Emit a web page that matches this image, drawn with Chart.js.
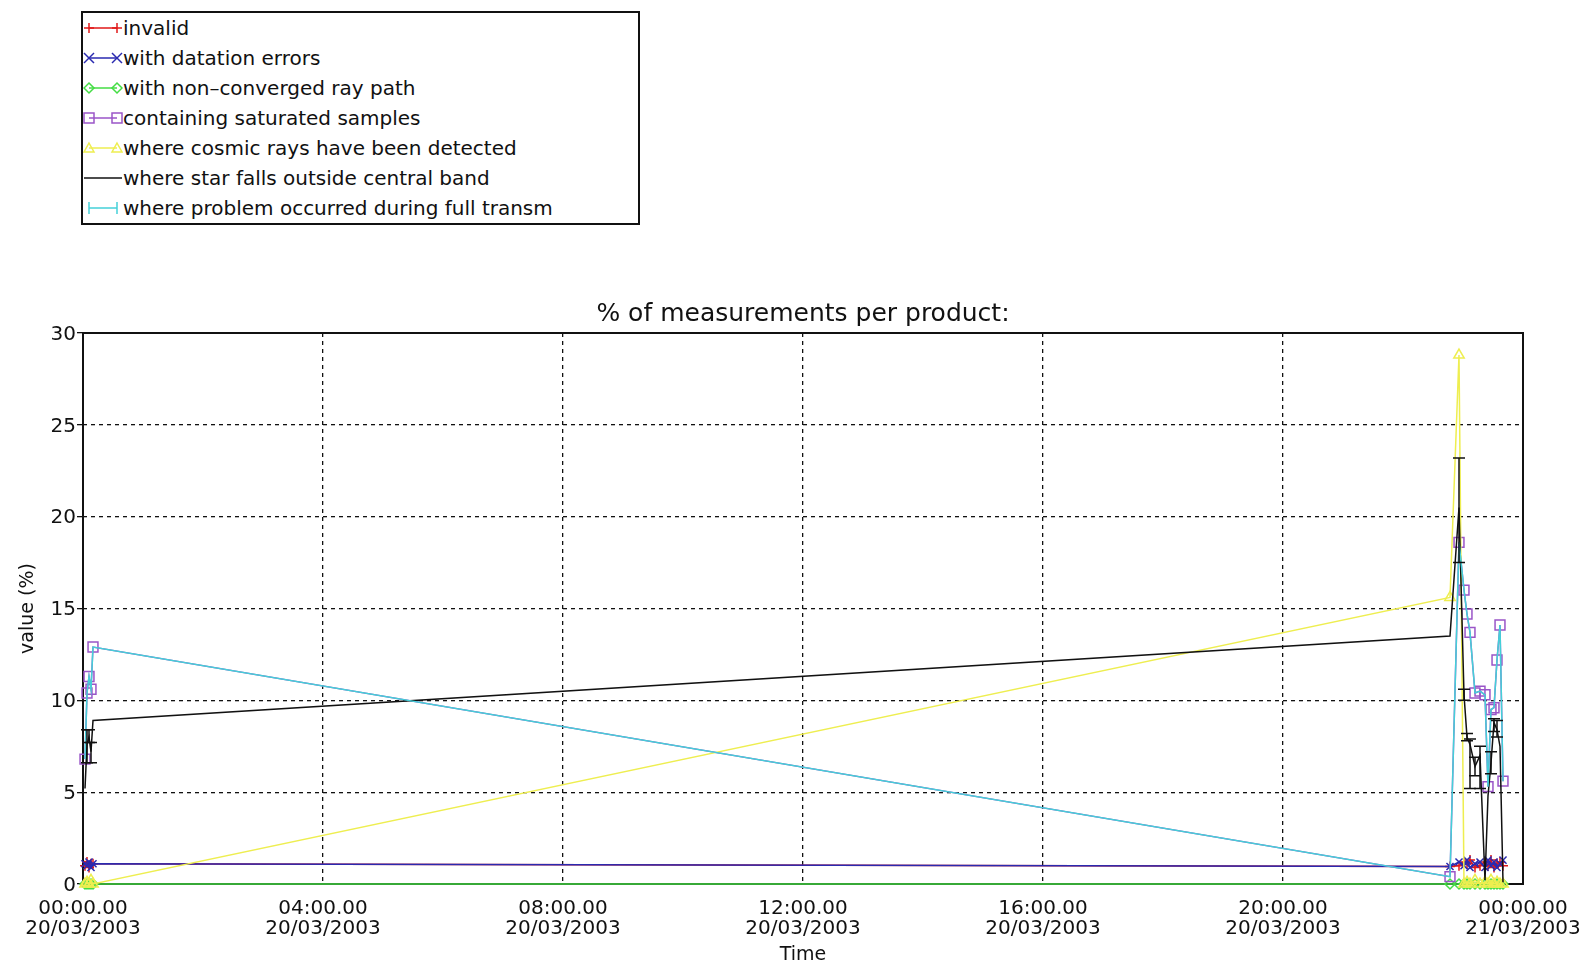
<!DOCTYPE html>
<html><head><meta charset="utf-8">
<script src="https://cdn.jsdelivr.net/npm/chart.js@4.4.1/dist/chart.umd.min.js"></script>
<style>
html,body{margin:0;padding:0;background:#fff;}
#wrap{position:relative;width:1594px;height:967px;overflow:hidden;background:#fff;}
#c{position:absolute;left:0;top:0;}
#legend{position:absolute;left:81px;top:11px;width:555px;height:210px;border:2px solid #111;font-family:"DejaVu Sans",sans-serif;font-size:20px;color:#111;background:#fff;}
.row{height:30px;display:flex;align-items:center;white-space:nowrap;}
.row svg{width:40px;height:24px;flex:none;}
</style></head>
<body>
<div id="wrap"><canvas id="c" width="1594" height="967"></canvas><div id="legend"></div></div>
<script>
// ---- data (time in minutes after 20/03/2003 00:00) ----
const times        = [2, 4, 6, 8, 10, 1367, 1376, 1381, 1384, 1387, 1392, 1397, 1402, 1405, 1408, 1411, 1414, 1417, 1420];
const invalid      = [1.0, 1.2, 0.9, 1.1, 1.1, 0.95, 1.0, 1.2, 1.1, 1.3, 0.9, 1.0, 1.2, 1.0, 1.3, 0.9, 1.1, 1.2, 1.0];
const datation     = [1.1, 1.0, 1.2, 0.9, 1.1, 0.95, 1.2, 1.0, 1.3, 0.9, 1.1, 1.2, 0.9, 1.3, 1.0, 1.2, 0.9, 1.1, 1.3];
const nonConverged = [0, 0, 0, 0, 0, 0, 0, 0, 0, 0, 0, 0, 0, 0, 0, 0, 0, 0, 0];
const saturated    = [6.8, 10.4, 11.3, 10.6, 12.9, 0.4, 18.6, 16.0, 14.7, 13.7, 10.4, 10.5, 10.3, 5.3, 9.5, 9.6, 12.2, 14.1, 5.6];
const cosmic       = [0, 0.1, 0, 0.2, 0, 15.6, 28.8, 0, 0.1, 0, 0.2, 0, 0.1, 0, 0.2, 0, 0.1, 0, 0];
const starOutside  = [5.2, 7.6, 8.0, 7.2, 8.9, 13.5, 20.5, 10.3, 8.0, 7.6, 6.4, 7.0, 0.2, 4.8, 6.6, 8.8, 8.4, 7.5, 0.1];
const starLow      = [null, 6.6, 7.7, 6.6, null, null, 17.5, 10.0, 7.8, 5.2, 5.9, 5.2, null, null, 6.0, 8.3, 8.0, null, null];
const starHigh     = [null, 8.4, 8.4, 7.7, null, null, 23.2, 10.6, 8.2, 7.9, 6.9, 7.5, null, null, 7.2, 9.0, 8.9, null, null];
const transmProblem= [6.8, 10.4, 11.3, 10.6, 12.9, 0.4, 18.6, 16.0, 14.7, 13.7, 10.4, 10.5, 10.3, 5.3, 9.5, 9.6, 12.2, 14.1, 5.6];

const seriesNames = ['invalid','with datation errors','with non\u2013converged ray path','containing saturated samples','where cosmic rays have been detected','where star falls outside central band','where problem occurred during full transm'];
const seriesColors = ['#e01818','#2a2ab0','#44dd44','#9a55c8','#eeee50','#111111','#44d0d8'];
const seriesMarkers = ['cross','crossRot','rectRot','rect','triangle',false,false];
const markerSizes = [5, 5, 5, 7, 6, 0, 0];
const legendMarkers = ['plus','x','diamond','square','triangle','none','bar'];
const seriesValues = [invalid, datation, nonConverged, saturated, cosmic, starOutside, transmProblem];

const xTickTimes = ['00:00.00','04:00.00','08:00.00','12:00.00','16:00.00','20:00.00','00:00.00'];
const xTickDates = ['20/03/2003','20/03/2003','20/03/2003','20/03/2003','20/03/2003','20/03/2003','21/03/2003'];
const titleText = '% of measurements per product:';

// ---- legend (HTML) ----
function sym(kind, cx){
  const cy = 12, r = 5;
  switch(kind){
    case 'plus': return `<line x1="${cx-r}" y1="${cy}" x2="${cx+r}" y2="${cy}"/><line x1="${cx}" y1="${cy-r}" x2="${cx}" y2="${cy+r}"/>`;
    case 'x': return `<line x1="${cx-r}" y1="${cy-r}" x2="${cx+r}" y2="${cy+r}"/><line x1="${cx-r}" y1="${cy+r}" x2="${cx+r}" y2="${cy-r}"/>`;
    case 'diamond': return `<polygon points="${cx},${cy-r} ${cx+r},${cy} ${cx},${cy+r} ${cx-r},${cy}" fill="none"/>`;
    case 'square': return `<rect x="${cx-r}" y="${cy-r}" width="${2*r}" height="${2*r}" fill="none"/>`;
    case 'triangle': return `<polygon points="${cx},${cy-r} ${cx+r},${cy+r-1} ${cx-r},${cy+r-1}" fill="none"/>`;
    case 'bar': return `<line x1="${cx}" y1="${cy-6}" x2="${cx}" y2="${cy+6}"/>`;
    default: return '';
  }
}
const leg = document.getElementById('legend');
seriesNames.forEach((n,i)=>{
  const k = legendMarkers[i], c = seriesColors[i];
  const x1 = k==='none'?1:6, x2 = k==='none'?39:34;
  const svg = `<svg viewBox="0 0 40 24"><g stroke="${c}" stroke-width="1.5"><line x1="${x1}" y1="12" x2="${x2}" y2="12"/>${sym(k,6)}${sym(k,34)}</g></svg>`;
  const row = document.createElement('div'); row.className='row';
  row.innerHTML = svg + '<span>'+n+'</span>';
  leg.appendChild(row);
});

// ---- chart ----
Chart.defaults.font.family = '"DejaVu Sans", sans-serif';
Chart.defaults.color = '#111';

const boxPlugin = {
  id:'box',
  beforeDatasetsDraw(chart){
    const {ctx, chartArea:a} = chart;
    ctx.save(); ctx.setLineDash([]); ctx.lineWidth = 2; ctx.strokeStyle = '#111';
    ctx.strokeRect(a.left, a.top, a.right-a.left, a.bottom-a.top);
    ctx.restore();
  }
};
const plotTitle = {
  id:'plotTitle',
  afterDraw(chart){
    const {ctx, chartArea:a} = chart;
    ctx.save();
    ctx.font = '25px "DejaVu Sans", sans-serif';
    ctx.fillStyle = '#111'; ctx.textAlign = 'center'; ctx.textBaseline = 'middle';
    ctx.fillText(titleText, (a.left + a.right)/2, a.top - 19);
    ctx.restore();
  }
};
const errPlugin = {
  id:'errbars',
  afterDatasetsDraw(chart){
    const {ctx, scales:{x, y}} = chart;
    ctx.save(); ctx.setLineDash([]); ctx.lineWidth = 1.5; ctx.strokeStyle = '#111';
    for(let i=0;i<times.length;i++){
      if(starLow[i]==null) continue;
      const px = x.getPixelForValue(times[i]);
      const lo = y.getPixelForValue(starLow[i]), hi = y.getPixelForValue(starHigh[i]);
      ctx.beginPath();
      ctx.moveTo(px, lo); ctx.lineTo(px, hi);
      ctx.moveTo(px-6, lo); ctx.lineTo(px+6, lo);
      ctx.moveTo(px-6, hi); ctx.lineTo(px+6, hi);
      ctx.stroke();
    }
    ctx.restore();
  }
};

const datasets = seriesNames.map((n,i)=>({
  label:n,
  data: times.map((t,j)=>({x:t, y:seriesValues[i][j]})),
  borderColor: seriesColors[i],
  backgroundColor: 'rgba(0,0,0,0)',
  borderWidth: 1.5,
  pointStyle: seriesMarkers[i],
  pointRadius: markerSizes[i],
  pointBorderWidth: 1.5,
  pointBorderColor: seriesColors[i],
  pointBackgroundColor: 'rgba(0,0,0,0)',
  tension: 0,
  order: 7 - i,
  clip: false
}));

new Chart(document.getElementById('c'), {
  type:'line',
  data:{datasets},
  options:{
    responsive:false,
    animation:false,
    events:[],
    devicePixelRatio:1,
    layout:{padding:{left:0, right:71, top:333, bottom:0}},
    plugins:{
      legend:{display:false},
      tooltip:{enabled:false},
      title:{display:false}
    },
    scales:{
      x:{
        type:'linear', min:0, max:1440,
        border:{display:false, dash:[4,4]},
        grid:{color:'#111', lineWidth:1.3, drawTicks:false},
        ticks:{stepSize:240, autoSkip:false, maxRotation:0, padding:15, font:{size:20, lineHeight:1.0},
          callback:(v,idx)=>[xTickTimes[idx], xTickDates[idx]]},
        title:{display:true, text:'Time', font:{size:19, lineHeight:1.2}, padding:{top:0,bottom:1}},
        afterFit(s){ s.height = 83; s.paddingLeft = 60; s.paddingRight = 60; }
      },
      y:{
        min:0, max:30,
        border:{display:false, dash:[4,4]},
        grid:{color:'#111', lineWidth:1.3, drawTicks:true, tickLength:6, tickBorderDash:[]},
        ticks:{stepSize:5, padding:1, labelOffset:1.5, font:{size:20}},
        title:{display:true, text:'value (%)', font:{size:19, lineHeight:1.2}, padding:{top:17, bottom:0}},
        afterFit(s){ s.width = 83; }
      }
    }
  },
  plugins:[boxPlugin, errPlugin, plotTitle]
});
</script>
</body></html>
